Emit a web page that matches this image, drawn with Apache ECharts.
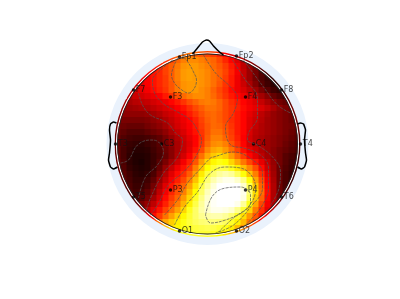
<!DOCTYPE html>
<html>
<head>
<meta charset="utf-8">
<style>
  html, body { margin: 0; padding: 0; background: #fff; }
  #chart { width: 400px; height: 299px; }
</style>
</head>
<body>
<div id="chart"></div>
<script src="https://cdn.jsdelivr.net/npm/echarts@6/dist/echarts.min.js"></script>
<script>
// head coordinates, origin at the head centre, y up
const _ = null;
const gridStep = 6;
const gridX = [-90,-84,-78,-72,-66,-60,-54,-48,-42,-36,-30,-24,-18,-12,-6,0,6,12,18,24,30,36,42,48,54,60,66,72,78,84,90];
const gridY = [90,84,78,72,66,60,54,48,42,36,30,24,18,12,6,0,-6,-12,-18,-24,-30,-36,-42,-48,-54,-60,-66,-72,-78,-84,-90];

// signal level per cell, 0 to 100
const levels = [
  [_,_,_,_,_,_,_,_,_,_,52,54,54,52,50,48,46,43,38,33,28,_,_,_,_,_,_,_,_,_,_],
  [_,_,_,_,_,_,_,_,44,48,52,56,58,58,56,54,52,48,43,38,32,26,20,_,_,_,_,_,_,_,_],
  [_,_,_,_,_,_,40,43,47,51,55,59,60,60,58,56,53,50,46,41,35,28,22,17,13,_,_,_,_,_,_],
  [_,_,_,_,_,38,40,43,47,51,56,60,61,60,59,57,54,51,47,42,36,29,23,17,12,9,_,_,_,_,_],
  [_,_,_,_,35,37,40,43,46,51,56,60,61,60,59,57,54,51,46,41,35,29,23,17,12,8,6,_,_,_,_],
  [_,_,_,32,34,37,40,43,46,50,55,59,60,60,59,57,54,50,45,41,35,30,25,19,13,9,6,5,_,_,_],
  [_,_,30,32,34,36,39,42,45,50,55,59,60,60,58,56,52,48,44,39,35,32,28,23,18,13,9,7,6,_,_],
  [_,_,27,30,31,33,35,37,41,45,49,53,56,58,58,56,53,49,45,41,38,35,32,28,24,20,15,12,10,_,_],
  [_,24,25,27,28,29,31,33,35,38,41,45,49,52,55,56,55,52,48,44,41,38,35,32,29,25,21,17,15,13,_],
  [_,22,23,24,25,26,28,30,32,34,37,40,44,48,51,54,54,52,48,45,42,39,36,34,32,29,25,21,18,16,_],
  [21,21,21,21,21,22,24,26,29,31,34,37,41,45,49,52,53,51,48,45,41,38,34,31,28,25,22,20,18,16,14],
  [19,18,18,18,18,19,21,23,26,29,32,35,38,42,47,51,53,51,48,44,41,38,33,30,27,24,22,20,18,16,15],
  [17,16,15,15,15,17,19,21,24,28,31,34,37,41,46,50,53,52,49,45,41,38,33,29,26,24,22,20,18,17,15],
  [16,14,12,12,12,14,16,18,21,25,29,32,36,40,45,50,54,54,50,46,41,38,32,28,26,24,22,20,18,16,14],
  [15,12,10,9,9,10,12,14,18,22,26,30,34,38,44,51,56,56,52,47,42,37,31,27,25,23,21,19,17,15,13],
  [15,11,8,7,6,8,10,13,17,21,25,29,33,38,45,53,58,59,56,50,44,38,31,28,25,23,21,19,16,14,12],
  [15,10,7,5,5,6,9,12,16,20,25,29,34,40,48,57,62,64,60,54,47,40,34,30,26,23,20,17,15,13,11],
  [15,10,6,4,4,5,8,11,15,20,26,31,37,45,54,62,67,70,67,60,53,46,38,33,28,24,20,17,13,11,9],
  [16,11,6,4,3,5,8,13,18,24,30,36,42,50,60,69,74,77,75,69,62,55,48,41,34,28,22,17,13,10,9],
  [16,12,7,5,4,5,9,15,22,29,35,40,46,56,66,75,80,83,82,78,72,65,57,49,39,30,23,16,12,9,8],
  [17,13,9,6,5,7,11,18,26,33,39,44,51,61,72,81,86,90,92,90,84,76,66,56,44,33,24,16,11,8,7],
  [_,14,10,7,7,9,14,22,29,36,42,48,56,66,77,86,92,96,98,98,95,88,76,62,49,36,25,16,11,8,_],
  [_,14,11,8,8,11,17,25,33,40,46,52,61,71,82,90,96,100,100,100,100,95,83,67,52,38,26,16,11,9,_],
  [_,_,12,9,10,14,20,28,36,43,49,56,65,75,85,93,98,100,100,100,100,98,86,70,54,39,26,16,11,_,_],
  [_,_,14,11,13,17,24,31,39,46,52,60,69,79,88,95,99,100,100,100,100,97,84,68,52,38,26,17,12,_,_],
  [_,_,_,15,18,22,28,35,42,49,56,64,73,82,90,96,99,100,100,100,98,90,77,62,48,36,26,18,_,_,_],
  [_,_,_,_,22,27,33,40,47,54,61,69,78,85,91,95,98,98,97,95,89,80,69,56,44,34,26,_,_,_,_],
  [_,_,_,_,_,33,39,46,54,61,68,74,80,85,89,91,92,92,90,86,79,70,60,50,41,33,_,_,_,_,_],
  [_,_,_,_,_,_,47,55,62,68,73,77,81,84,86,87,87,86,84,79,73,65,55,46,37,_,_,_,_,_,_],
  [_,_,_,_,_,_,_,_,65,70,74,77,79,81,82,83,82,80,77,72,65,58,49,_,_,_,_,_,_,_,_],
  [_,_,_,_,_,_,_,_,_,_,76,78,79,80,80,80,78,75,71,66,60,_,_,_,_,_,_,_,_,_,_]
];

const hotColors = ["#0a0000","#550000","#aa0000","#ff0000","#ff5500","#ffaa00","#ffff00","#ffff80","#ffffff"];

const channelNames = ["Fp1","Fp2","F7","F8","F3","F4","T3","C3","C4","T4","T5","P3","P4","T6","O1","O2"];
const channelX = [-28,29,-74,74,-37,38,-92,-46,46,93,-74,-37,38,74,-28,29];
const channelY = [87,88,54,54,47,47,0,0,0,0,-53,-46,-46,-53,-87,-87];

const noseLine = [[-15,90],[-10,96],[-5,102],[-1,104],[2,103],[6,98],[12,92],[16,89]];
const leftEar = [[-91,21],[-94,22],[-97,20],[-98,14],[-97,4],[-98,-9],[-99,-16],[-97,-23],[-94,-25],[-90,-23]];
const rightEar = [[90,20],[93,21],[96,20],[98,14],[97,4],[98,-9],[99,-16],[97,-23],[94,-25],[90,-23]];

const contours = [
  [[-30,86],[-34,77],[-36,69],[-33,61],[-27,55],[-19,51],[-13,56],[-11,64],[-14,72],[-19,81],[-24,86],[-30,86]],
  [[-35,84],[-49,72],[-55,64],[-54,54],[-45,41],[-30,32],[-17,24],[-9,12],[-6,4],[-12,-13],[-24,-28],[-39,-41],[-50,-61],[-57,-71]],
  [[-69,51],[-65,39],[-57,29],[-40,21],[-32,11],[-25,4],[-30,-13],[-44,-29],[-57,-54],[-62,-69]],
  [[-87,-19],[-79,-16],[-70,-1],[-57,4],[-49,2],[-44,-8],[-50,-21],[-62,-33],[-69,-54]],
  [[-4,89],[8,71],[21,59],[30,46],[26,31],[18,17],[20,4],[25,-2],[36,-4],[53,-11],[61,-24],[61,-44],[55,-61],[43,-76],[35,-84]],
  [[25,84],[38,64],[50,46],[50,27],[41,11],[40,4],[50,-1],[66,-14],[73,-28],[71,-46],[63,-61]],
  [[36,84],[56,57],[70,39],[83,31]],
  [[-43,-71],[-30,-56],[-20,-39],[-10,-28],[3,-14],[6,-13],[26,-8],[48,-18],[55,-29],[55,-44],[43,-63],[26,-81],[8,-89]],
  [[-33,-81],[-23,-63],[-10,-48],[3,-29],[18,-23],[33,-24],[45,-33],[48,-46],[40,-64],[26,-74],[11,-88]],
  [[-2,-71],[5,-52],[18,-44],[33,-43],[43,-51],[43,-59],[33,-69],[18,-76],[3,-79],[-2,-71]]
];

const headRadius = 90;
const whiteRingRadius = 91.2;
const haloInner = 93;
const haloOuter = 101;

const cells = [];
levels.forEach((row, i) => {
  row.forEach((v, j) => {
    if (v !== null) cells.push([gridX[j], gridY[i], v]);
  });
});

function renderCell(params, api) {
  const half = gridStep / 2;
  const x = api.value(0);
  const y = api.value(1);
  const p0 = api.coord([x - half, y + half]);
  const p1 = api.coord([x + half, y - half]);
  return {
    type: "rect",
    shape: { x: p0[0], y: p0[1], width: p1[0] - p0[0] + 0.5, height: p1[1] - p0[1] + 0.5 },
    style: { fill: api.visual("color") }
  };
}

function ringSeries(inner, outer, color) {
  return {
    type: "custom",
    coordinateSystem: "cartesian2d",
    silent: true,
    clip: false,
    data: [[0, 0]],
    renderItem(params, api) {
      const c = api.coord([0, 0]);
      const unit = api.size([1, 0])[0];
      return {
        type: "ring",
        shape: { cx: c[0], cy: c[1], r0: inner * unit, r: outer * unit },
        style: { fill: color }
      };
    }
  };
}

function outlineSeries(points, width) {
  return {
    type: "line",
    data: points,
    silent: true,
    symbol: "none",
    smooth: 0.15,
    clip: false,
    lineStyle: { color: "#000", width: width }
  };
}

const series = [
  {
    type: "custom",
    coordinateSystem: "cartesian2d",
    silent: true,
    clip: false,
    encode: { x: 0, y: 1 },
    data: cells,
    renderItem: renderCell
  },
  ringSeries(haloInner, haloOuter, "#eaf2fc"),
  ringSeries(headRadius + 0.4, whiteRingRadius + 0.4, "#ffffff"),
  ringSeries(headRadius - 0.4, headRadius + 0.4, "#222222"),
  outlineSeries(noseLine, 1.5),
  outlineSeries(leftEar, 1.5),
  outlineSeries(rightEar, 1.5)
];

contours.forEach((points) => {
  series.push({
    type: "line",
    data: points,
    silent: true,
    symbol: "none",
    smooth: 0.4,
    lineStyle: { color: "#555", width: 0.8, type: [3, 1], opacity: 0.9 }
  });
});

series.push({
  type: "scatter",
  silent: true,
  symbol: "circle",
  symbolSize: 3.5,
  itemStyle: { color: "#000" },
  data: channelNames.map((name, i) => ({ name: name, value: [channelX[i], channelY[i]] })),
  label: {
    show: true,
    position: "right",
    distance: 0.5,
    formatter: "{b}",
    fontFamily: "DejaVu Sans",
    fontSize: 8,
    color: "#111"
  }
});

const chart = echarts.init(document.getElementById("chart"));
chart.setOption({
  animation: false,
  backgroundColor: "#fff",
  grid: { left: 0, right: 0, top: 0, bottom: 0 },
  xAxis: { type: "value", min: -207.5, max: 192.5, show: false },
  yAxis: { type: "value", min: -155, max: 144, show: false },
  visualMap: {
    show: false,
    seriesIndex: 0,
    dimension: 2,
    min: 0,
    max: 100,
    inRange: { color: hotColors }
  },
  series: series
});
</script>
</body>
</html>
